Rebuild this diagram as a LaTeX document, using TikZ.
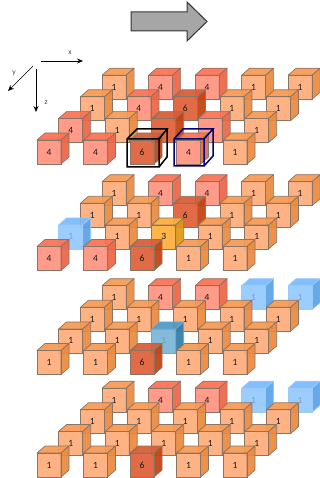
\documentclass[tikz,border=0pt]{standalone}
\usepackage{fontspec}
\setmainfont{Carlito}
\usetikzlibrary{arrows.meta}
\definecolor{f1}{HTML}{FFAE7C}\definecolor{t1}{HTML}{F89A52}\definecolor{s1}{HTML}{EA8A40}
\definecolor{f4}{HTML}{FF9480}\definecolor{t4}{HTML}{FC7252}\definecolor{s4}{HTML}{EA6648}
\definecolor{f6}{HTML}{DE6038}\definecolor{t6}{HTML}{D85C34}\definecolor{s6}{HTML}{C24210}
\definecolor{f3}{HTML}{FFB03C}\definecolor{t3}{HTML}{FFAE38}\definecolor{s3}{HTML}{E09812}
\definecolor{fb}{HTML}{94CAFF}\definecolor{tb}{HTML}{7ABAFF}\definecolor{sb}{HTML}{5CA2E8}
\definecolor{fd}{HTML}{7CB6D8}\definecolor{td}{HTML}{4C9AC8}\definecolor{sd}{HTML}{2E80A8}
\colorlet{fk}{f6}\colorlet{tk}{t6}\colorlet{sk}{s6}
\colorlet{fp}{f4}\colorlet{tp}{t4}\colorlet{sp}{s4}
\definecolor{edgec}{HTML}{8C7464}
\colorlet{e1}{edgec}\colorlet{e3}{edgec}\colorlet{e4}{edgec}\colorlet{e6}{edgec}
\colorlet{ek}{edgec}\colorlet{ep}{edgec}
\definecolor{eb}{HTML}{9CCAF8}\definecolor{ed}{HTML}{78A8C4}
\tikzset{
  cubeface/.style={draw=#1,line width=.7pt,fill opacity=.93,line join=round},
  cubelabel/.style={font=\fontsize{9.5}{10}\selectfont,text=black!90,inner sep=0pt},
  axis/.style={-{Stealth[length=6pt,width=5pt]},line width=.7pt,black},
  axislabel/.style={font=\fontsize{7.5}{8}\selectfont,text=black!75,inner sep=0pt},
  boxline/.style={line width=1.5pt,line join=miter},
}
\newcommand{\onecube}[3]{% x y type
  \fill[f#3,fill opacity=.93] (#1,#2) rectangle ++(24,24);
  \draw[cubeface=e#3,fill=t#3] (#1,#2) -- ++(8,-7) -- ++(24,0) -- ++(-8,7) -- cycle;
  \draw[cubeface=e#3,fill=s#3] (#1+24,#2) -- ++(8,-7) -- ++(0,24) -- ++(-8,7) -- cycle;
  \draw[e#3,line width=.7pt] (#1,#2) rectangle ++(24,24);
}
\newcommand{\panel}[2]{% y offset, rows back to front
  \foreach \r/\rowlist in {#2}{
    \foreach \t [count=\c from 0] in \rowlist{
      \pgfmathsetmacro{\px}{37+21.7*\r+46.5*\c}
      \pgfmathsetmacro{\py}{140+#1-21.6*\r}
      \onecube{\px}{\py}{\t}
    }
  }
  \foreach \r/\rowlist in {#2}{
    \foreach \t [count=\c from 0] in \rowlist{
      \pgfmathsetmacro{\px}{37+21.7*\r+46.5*\c+12}
      \pgfmathsetmacro{\py}{140+#1-21.6*\r+12}
      \node[cubelabel,opacity=\csname op\t\endcsname] (l#1r\r c\c) at (\px,\py) {\csname tx\t\endcsname};
    }
  }
}
\expandafter\def\csname tx1\endcsname{1}\expandafter\def\csname op1\endcsname{1}
\expandafter\def\csname tx3\endcsname{3}\expandafter\def\csname op3\endcsname{1}
\expandafter\def\csname tx4\endcsname{4}\expandafter\def\csname op4\endcsname{1}
\expandafter\def\csname tx6\endcsname{6}\expandafter\def\csname op6\endcsname{1}
\expandafter\def\csname txb\endcsname{1}\expandafter\def\csname opb\endcsname{.25}
\expandafter\def\csname txd\endcsname{1}\expandafter\def\csname opd\endcsname{.2}
\expandafter\def\csname txk\endcsname{}\expandafter\def\csname opk\endcsname{1}
\expandafter\def\csname txp\endcsname{}\expandafter\def\csname opp\endcsname{1}
\begin{document}
\begin{tikzpicture}[x=1pt,y=-1pt]
\path[use as bounding box,fill=white] (0,0) rectangle (320,478);
% block arrow
\draw[fill=black!35,draw=black!80,line width=1pt,line join=miter]
  (131,12) -- (187,12) -- (187,2) -- (207,21.5) -- (187,41) -- (187,31) -- (131,31) -- cycle;
% axes
\coordinate (xa) at (41,61); \coordinate (xb) at (83,61);
\coordinate (ya) at (33,66); \coordinate (yb) at (8,91);
\coordinate (za) at (36,69); \coordinate (zb) at (36,112);
\draw[axis] (xa) -- (xb);
\draw[axis] (ya) -- (yb);
\draw[axis] (za) -- (zb);
\node[axislabel] (xl) at (70,53) {x};
\node[axislabel] (yl) at (14,73) {y};
\node[axislabel] (zl) at (46,103) {z};
% panels
\panel{0}{3/{1,4,4,1,1},2/{1,4,6,1,1},1/{4,1,k,p,1},0/{4,4,6,4,1}}
\panel{106.5}{3/{1,4,4,1,1},2/{1,1,6,1,1},1/{b,1,3,1,1},0/{4,4,6,1,1}}
\panel{210.5}{3/{1,4,4,b,b},2/{1,1,1,1,1},1/{1,1,d,1,1},0/{1,1,6,1,1}}
\panel{313}{3/{1,4,4,b,b},2/{1,1,1,1,1},1/{1,1,1,1,1},0/{1,1,6,1,1}}
% highlight boxes
\draw[boxline,black] (127,139) rectangle (159,167)
  (127,139) -- (137,129) -- (167,129) -- (159,139)
  (167,129) -- (167,157) -- (159,167);
\draw[boxline,blue!45!black] (174,139) rectangle (204,166)
  (174,139) -- (183,129) -- (213,129) -- (204,139)
  (213,129) -- (213,156) -- (204,166);
\end{tikzpicture}
\end{document}
